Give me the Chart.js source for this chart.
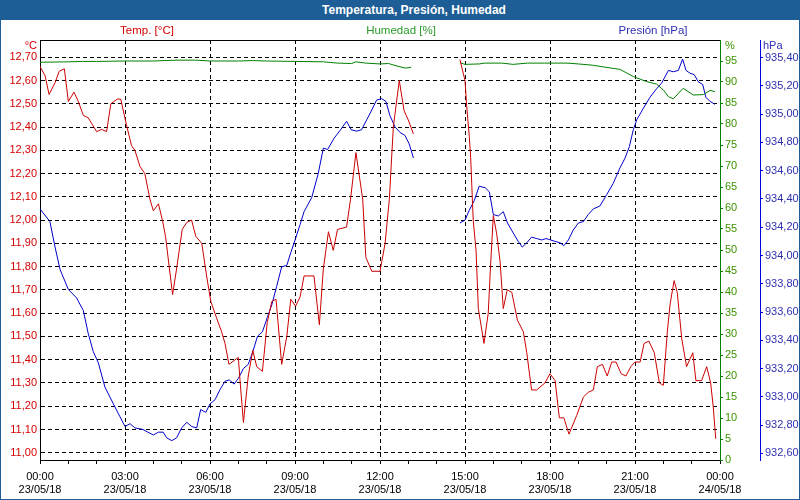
<!DOCTYPE html>
<html>
<head>
<meta charset="utf-8">
<script src="https://cdn.jsdelivr.net/npm/chart.js@4/dist/chart.umd.min.js"></script>
<style>
  html, body { margin: 0; padding: 0; background: #ffffff; }
  #frame { position: absolute; left: 0; top: 0; width: 800px; height: 500px; box-sizing: border-box;
           border: 1px solid #1e5e96; border-top: none; background: #ffffff; }
  #titlebar { position: absolute; left: 0; top: 0; width: 800px; height: 20px; background: #1e5e96; }
  #titlebar span { position: absolute; left: 414px; top: 3px; transform: translateX(-50%);
                   color: #ffffff; font: bold 12px "Liberation Sans", Arial, sans-serif; white-space: nowrap; }
  #chart { position: absolute; left: 1px; top: 20px; }
</style>
</head>
<body>
<div id="frame"></div>
<div id="titlebar"><span>Temperatura, Presión, Humedad</span></div>
<canvas id="chart" width="798" height="479"></canvas>
<script>
// hours since 23/05/18 00:00 ; null = no data (gap)
const tempHours = [0, 0.18, 0.32, 0.53, 0.68, 0.86, 1.0, 1.2, 1.35, 1.53, 1.7, 2.0, 2.17, 2.35, 2.5, 2.73, 2.85,
  3.05, 3.23, 3.35, 3.53, 3.7, 3.88, 4.0, 4.18, 4.32, 4.43, 4.56, 4.68, 4.82, 5.02, 5.18, 5.35, 5.5, 5.71, 5.88,
  6.03, 6.23, 6.41, 6.53, 6.67, 7.0, 7.06, 7.18, 7.35, 7.51, 7.65, 7.85, 8.02, 8.18, 8.33, 8.53, 8.71, 8.85,
  9.02, 9.18, 9.32, 9.67, 9.86, 10.0, 10.18, 10.35, 10.5, 10.82, 10.96, 11.15, 11.39, 11.5, 11.71, 12.0, 12.18,
  12.33, 12.47, 12.68, 12.85, 13.0, 13.18, 14.0,
  14.82, 15.0, 15.06, 15.15, 15.2, 15.29, 15.39, 15.47, 15.67, 15.82, 15.9, 16.0, 16.12, 16.24, 16.35, 16.49,
  16.65, 16.85, 17.06, 17.18, 17.35, 17.53, 17.82, 18.0, 18.18, 18.33, 18.49, 18.67, 18.94, 19.18, 19.35, 19.53,
  19.67, 19.85, 20.02, 20.18, 20.33, 20.51, 20.68, 20.85, 21.0, 21.18, 21.32, 21.49, 21.68, 21.86, 22.0, 22.14,
  22.24, 22.38, 22.49, 22.65, 22.82, 23.04, 23.15, 23.35, 23.53, 23.67, 23.76, 23.85];
const tempValues = [12.66, 12.62, 12.54, 12.59, 12.64, 12.65, 12.51, 12.55, 12.51, 12.45, 12.44, 12.38, 12.39, 12.38, 12.50, 12.52, 12.52,
  12.41, 12.32, 12.30, 12.23, 12.20, 12.09, 12.04, 12.07, 12.00, 11.93, 11.80, 11.68, 11.79, 11.96, 11.99, 12.00, 11.93, 11.90, 11.76,
  11.65, 11.58, 11.52, 11.47, 11.38, 11.41, 11.31, 11.13, 11.33, 11.44, 11.37, 11.35, 11.56, 11.65, 11.66, 11.38, 11.50, 11.66,
  11.63, 11.67, 11.76, 11.76, 11.55, 11.79, 11.95, 11.87, 11.96, 11.97, 12.09, 12.29, 12.09, 11.84, 11.78, 11.78, 11.90,
  12.09, 12.40, 12.60, 12.47, 12.43, 12.37, null,
  12.69, 12.60, 12.49, 12.36, 12.27, 12.00, 11.87, 11.62, 11.47, 11.60, 11.80, 12.02, 11.94, 11.82, 11.62, 11.70,
  11.69, 11.57, 11.52, 11.43, 11.27, 11.27, 11.30, 11.34, 11.31, 11.15, 11.15, 11.08, 11.16, 11.24, 11.26, 11.27,
  11.37, 11.38, 11.33, 11.39, 11.39, 11.34, 11.33, 11.37, 11.39, 11.39, 11.47, 11.48, 11.43, 11.30, 11.29, 11.52,
  11.64, 11.74, 11.69, 11.49, 11.37, 11.43, 11.31, 11.31, 11.37, 11.30, 11.20, 11.06];

const humHours = [0, 1.0, 1.5, 2.0, 3.0, 4.0, 4.8, 5.5, 6.0, 7.0, 7.5, 8.0, 9.0, 10.0, 10.5, 11.0, 11.15, 11.5,
  12.0, 12.3, 12.6, 12.9, 13.1, 14.0,
  14.82, 15.0, 15.5, 15.7, 16.3, 16.7, 17.2, 17.8, 18.6, 19.0, 19.5, 19.88, 20.47, 20.94, 21.41, 21.76, 22.0,
  22.18, 22.35, 22.7, 23.06, 23.41, 23.65, 23.82];
const humValues = [94.7, 94.8, 94.9, 94.9, 95.0, 95.0, 95.2, 95.2, 95.0, 95.0, 95.1, 95.0, 94.9, 94.8, 94.5, 94.4, 94.8, 94.5,
  94.3, 94.4, 93.8, 93.3, 93.5, null,
  94.6, 94.2, 94.3, 94.5, 94.5, 94.2, 94.5, 94.5, 94.5, 94.3, 94.0, 93.6, 93.0, 91.3, 90.1, 89.5, 88.1,
  86.5, 86.0, 88.5, 86.9, 87.0, 88.0, 87.7];

const presHours = [0, 0.35, 0.53, 0.71, 1.0, 1.29, 1.53, 1.7, 1.88, 2.06, 2.29, 2.59, 2.82, 3.0, 3.18, 3.35, 3.62,
  4.0, 4.18, 4.35, 4.47, 4.65, 4.82, 5.0, 5.18, 5.35, 5.53, 5.67, 5.85, 6.0, 6.18, 6.35, 6.53, 6.68, 6.85, 7.0,
  7.18, 7.35, 7.51, 7.68, 7.85, 8.02, 8.18, 8.35, 8.53, 8.71, 8.85, 9.02, 9.18, 9.32, 9.59, 9.82, 10.0, 10.15,
  10.38, 10.61, 10.82, 10.98, 11.18, 11.35, 11.53, 11.71, 11.88, 12.06, 12.21, 12.35, 12.53, 12.71, 12.88, 13.03,
  13.18, 14.0,
  14.82, 15.0, 15.15, 15.33, 15.5, 15.71, 15.86, 16.0, 16.18, 16.35, 16.5, 16.7, 16.88, 17.02, 17.18, 17.35,
  17.53, 17.71, 17.86, 18.02, 18.18, 18.35, 18.49, 18.65, 18.82, 19.0, 19.18, 19.35, 19.53, 19.76, 20.0, 20.23,
  20.47, 20.65, 20.8, 20.94, 21.06, 21.29, 21.53, 21.76, 21.94, 22.18, 22.35, 22.53, 22.68, 22.8, 22.94, 23.09,
  23.23, 23.39, 23.5, 23.65, 23.82];
const presValues = [934.33, 934.24, 934.06, 933.90, 933.76, 933.70, 933.61, 933.45, 933.32, 933.24, 933.07, 932.95, 932.86, 932.79, 932.81, 932.78, 932.77,
  932.73, 932.75, 932.75, 932.71, 932.69, 932.71, 932.78, 932.82, 932.79, 932.78, 932.91, 932.89, 932.95, 932.98, 933.05, 933.11, 933.12, 933.09, 933.13,
  933.20, 933.23, 933.32, 933.43, 933.46, 933.56, 933.65, 933.78, 933.92, 933.93, 934.02, 934.12, 934.22, 934.31, 934.41, 934.58, 934.76, 934.75,
  934.83, 934.89, 934.95, 934.89, 934.88, 934.89, 934.96, 935.03, 935.10, 935.11, 935.09, 934.99, 934.91, 934.87, 934.85, 934.79,
  934.69, null,
  934.23, 934.25, 934.32, 934.39, 934.49, 934.48, 934.45, 934.29, 934.28, 934.31, 934.23, 934.16, 934.10, 934.06, 934.09, 934.13,
  934.12, 934.11, 934.12, 934.11, 934.10, 934.09, 934.07, 934.11, 934.18, 934.23, 934.24, 934.29, 934.33, 934.35, 934.43, 934.51,
  934.62, 934.69, 934.77, 934.89, 934.96, 935.04, 935.12, 935.18, 935.22, 935.31, 935.30, 935.31, 935.39, 935.31, 935.29, 935.28,
  935.23, 935.21, 935.12, 935.09, 935.07];

const seriesNames = ['Temp. [°C]', 'Humedad [%]', 'Presión [hPa]'];
const unitLabels = ['°C', '%', 'hPa'];
const dayLabels = ['23/05/18', '24/05/18'];

const RED = '#cc0000', GREEN = '#008000', BLUE = '#0000cc';
const RED_TXT = '#d40000', GREEN_TXT = '#3c9400', BLUE_TXT = '#3030b0';
const FONT = { family: '"Liberation Sans", Arial, sans-serif', size: 11 };

const toPoints = (xs, ys) => xs.map((x, i) => ({ x: x, y: ys[i] }));
const comma = v => v.toFixed(2).replace('.', ',');

// series names, unit captions and the top frame line
const decorPlugin = {
  id: 'decor',
  afterDraw(chart) {
    const { ctx, chartArea: a } = chart;
    ctx.save();
    ctx.strokeStyle = '#000000';
    ctx.lineWidth = 1;
    ctx.beginPath();
    ctx.moveTo(a.left, a.top + 0.5);
    ctx.lineTo(a.right, a.top + 0.5);
    ctx.stroke();

    ctx.font = '11.5px "Liberation Sans", Arial, sans-serif';
    ctx.textBaseline = 'middle';
    ctx.textAlign = 'center';
    ctx.fillStyle = RED_TXT;   ctx.fillText(seriesNames[0], 146, 11);
    ctx.fillStyle = '#2a9a2a'; ctx.fillText(seriesNames[1], 400, 11);
    ctx.fillStyle = BLUE_TXT;  ctx.fillText(seriesNames[2], 652, 11);

    ctx.font = '11px "Liberation Sans", Arial, sans-serif';
    ctx.textAlign = 'right';
    ctx.fillStyle = RED_TXT;   ctx.fillText(unitLabels[0], a.left - 3, a.top + 6);
    ctx.textAlign = 'left';
    ctx.fillStyle = GREEN_TXT; ctx.fillText(unitLabels[1], a.right + 5, a.top + 6);
    ctx.fillStyle = BLUE_TXT;  ctx.fillText(unitLabels[2], a.right + 43, a.top + 6);
    ctx.restore();
  }
};

new Chart(document.getElementById('chart'), {
  type: 'line',
  data: {
    datasets: [
      { label: seriesNames[0], data: toPoints(tempHours, tempValues), yAxisID: 'yT',
        borderColor: RED, borderWidth: 1, pointRadius: 0, tension: 0, spanGaps: false },
      { label: seriesNames[1], data: toPoints(humHours, humValues), yAxisID: 'yH',
        borderColor: GREEN, borderWidth: 1, pointRadius: 0, tension: 0, spanGaps: false },
      { label: seriesNames[2], data: toPoints(presHours, presValues), yAxisID: 'yP',
        borderColor: BLUE, borderWidth: 1, pointRadius: 0, tension: 0, spanGaps: false }
    ]
  },
  options: {
    responsive: false,
    animation: false,
    devicePixelRatio: 1,
    layout: { padding: { top: 20, left: 0, right: 0, bottom: 0 } },
    plugins: { legend: { display: false }, tooltip: { enabled: false }, title: { display: false } },
    scales: {
      x: {
        type: 'linear', min: 0, max: 24,
        afterFit: s => { s.height = 39; },
        ticks: {
          stepSize: 1, autoSkip: false, maxRotation: 0, color: '#000000', font: FONT, padding: 6,
          callback: v => (v % 3 === 0) ? [String(v % 24).padStart(2, '0') + ':00', dayLabels[v < 24 ? 0 : 1]] : ''
        },
        grid: {
          color: c => (c.tick && c.tick.value % 3 === 0 && c.tick.value > 0 && c.tick.value < 24) ? '#000000' : 'rgba(0,0,0,0)',
          tickColor: '#000000', tickLength: 4, lineWidth: 1
        },
        border: { color: '#000000', width: 1, dash: [4, 3] }
      },
      yT: {
        position: 'left', min: 10.969, max: 12.774,
        afterFit: s => { s.width = 39; },
        ticks: { stepSize: 0.1, includeBounds: false, color: RED_TXT, font: FONT, padding: 3, callback: v => comma(v) },
        grid: { color: '#000000', drawTicks: false, lineWidth: 1 },
        border: { color: '#000000', width: 1, dash: [4, 3] }
      },
      yH: {
        position: 'right', weight: 0, min: 0, max: 100,
        afterFit: s => { s.width = 40; },
        ticks: { stepSize: 5, color: GREEN_TXT, font: FONT, padding: 2,
                 callback: v => (v >= 100 ? null : String(v)) },
        grid: { drawOnChartArea: false, tickColor: GREEN, tickLength: 3 },
        border: { color: GREEN, width: 1 }
      },
      yP: {
        position: 'right', weight: 1, min: 932.553, max: 935.525,
        afterFit: s => { s.width = 39; },
        ticks: { stepSize: 0.2, includeBounds: false, color: BLUE_TXT, font: FONT, padding: 2, callback: v => comma(v) },
        grid: { drawOnChartArea: false, tickColor: '#0000e0', tickLength: 3 },
        border: { color: '#0000e0', width: 1 }
      }
    }
  },
  plugins: [decorPlugin]
});
</script>
</body>
</html>
